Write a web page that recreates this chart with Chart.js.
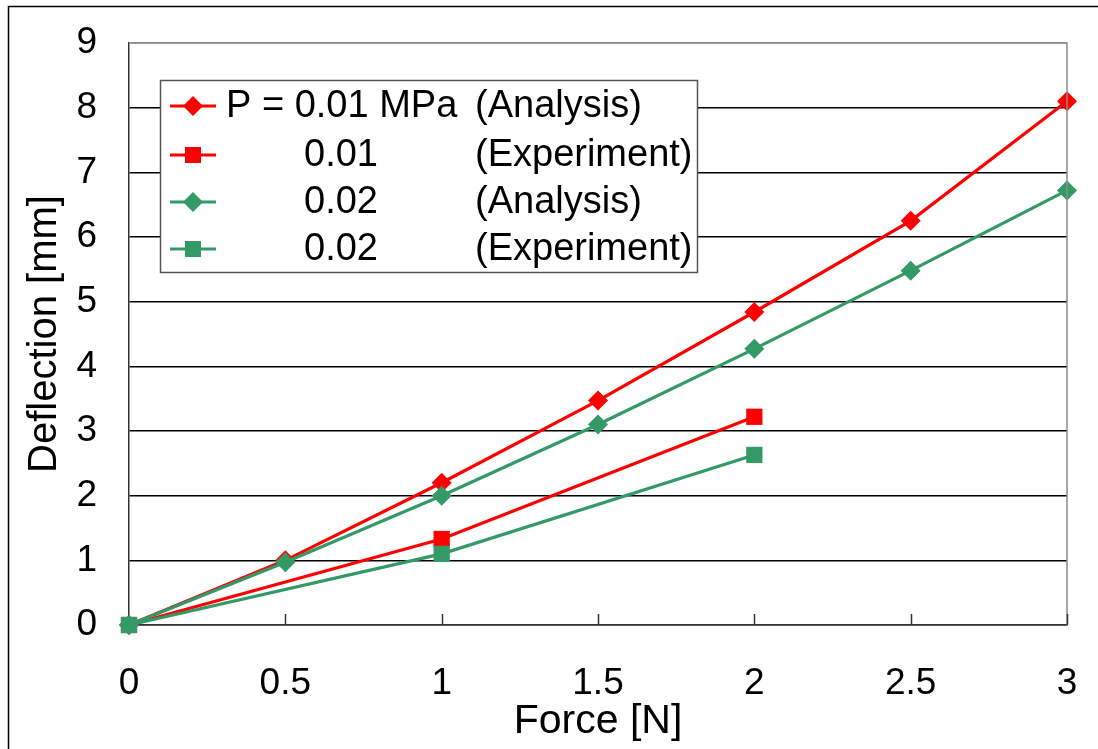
<!DOCTYPE html>
<html>
<head>
<meta charset="utf-8">
<script src="https://cdn.jsdelivr.net/npm/chart.js@4/dist/chart.umd.min.js"></script>
<style>
  html, body { margin: 0; padding: 0; background: #fff; }
  #wrap { width: 1098px; height: 749px; }
</style>
</head>
<body>
<div id="wrap"><canvas id="chart" width="1098" height="749"></canvas></div>
<script>
// force values (N)
const forceAnalysis = [0, 0.5, 1, 1.5, 2, 2.5, 3];
const forceExperiment = [0, 1, 2];

// deflection (mm)
const defl001Analysis = [0, 1.0, 2.2, 3.47, 4.84, 6.25, 8.1];
const defl001Experiment = [0, 1.33, 3.22];
const defl002Analysis = [0, 0.97, 2.0, 3.1, 4.27, 5.48, 6.72];
const defl002Experiment = [0, 1.1, 2.63];

// tick labels
const xTickLabels = ['0', '0.5', '1', '1.5', '2', '2.5', '3'];
const yTickLabels = ['0', '1', '2', '3', '4', '5', '6', '7', '8', '9'];

// legend text columns
const legendPressure = ['P = 0.01 MPa', '0.01', '0.02', '0.02'];
const legendKind = ['(Analysis)', '(Experiment)', '(Analysis)', '(Experiment)'];

const RED = '#ff0000';
const GREEN = '#339966';
const FONT = "'Liberation Sans', Arial, sans-serif";

const toPoints = (xs, ys) => xs.map((x, i) => ({ x: x, y: ys[i] }));

function series(label, xs, ys, color, style, order) {
  const r = style === 'rectRot' ? 10 : 11.5;
  return {
    label: label,
    data: toPoints(xs, ys),
    borderColor: color,
    backgroundColor: color,
    borderWidth: 3.2,
    pointStyle: style,
    pointRadius: r,
    pointHoverRadius: r,
    pointBorderWidth: 0,
    tension: 0,
    fill: false,
    clip: false,
    order: order
  };
}

// plot frame, inward x ticks, outer border and the legend box
const decorations = {
  id: 'decorations',
  afterDraw(chart) {
    const ctx = chart.ctx;
    const a = chart.chartArea;
    const xs = chart.scales.x;
    ctx.save();

    // right / top frame of the plot area
    ctx.strokeStyle = '#8c8c8c';
    ctx.lineWidth = 1.5;
    ctx.beginPath();
    ctx.moveTo(a.left, a.top);
    ctx.lineTo(a.right, a.top);
    ctx.lineTo(a.right, a.bottom);
    ctx.stroke();

    // small tick marks pointing into the plot
    ctx.strokeStyle = '#333';
    ctx.lineWidth = 1.5;
    xs.ticks.forEach(t => {
      if (t.value === 0) return;
      const px = Math.round(xs.getPixelForValue(t.value)) + 0.5;
      ctx.beginPath();
      ctx.moveTo(px, a.bottom);
      ctx.lineTo(px, a.bottom - 11);
      ctx.stroke();
    });

    // outer border (top and left)
    ctx.strokeStyle = '#000';
    ctx.lineWidth = 1.5;
    ctx.beginPath();
    ctx.moveTo(8.5, chart.height);
    ctx.lineTo(8.5, 6.5);
    ctx.lineTo(chart.width, 6.5);
    ctx.stroke();

    // legend
    const box = { x: 160.5, y: 80.5, w: 537, h: 192 };
    ctx.fillStyle = '#fff';
    ctx.fillRect(box.x, box.y, box.w, box.h);
    ctx.strokeStyle = '#555';
    ctx.lineWidth = 1.5;
    ctx.strokeRect(box.x, box.y, box.w, box.h);

    const rowY = [106, 155, 202, 249];
    ctx.font = '38px ' + FONT;
    ctx.textBaseline = 'middle';
    chart.data.datasets.forEach((ds, i) => {
      const y = rowY[i];
      ctx.strokeStyle = ds.borderColor;
      ctx.lineWidth = 3.2;
      ctx.beginPath();
      ctx.moveTo(170, y);
      ctx.lineTo(216, y);
      ctx.stroke();

      ctx.fillStyle = ds.backgroundColor;
      const cx = 193;
      if (ds.pointStyle === 'rectRot') {
        ctx.beginPath();
        ctx.moveTo(cx, y - 10);
        ctx.lineTo(cx + 10, y);
        ctx.lineTo(cx, y + 10);
        ctx.lineTo(cx - 10, y);
        ctx.closePath();
        ctx.fill();
      } else {
        ctx.fillRect(cx - 8, y - 8, 16, 16);
      }

      ctx.fillStyle = '#000';
      ctx.textAlign = 'left';
      ctx.fillText(legendPressure[i], i === 0 ? 226 : 304, y + 1);
      ctx.fillText(legendKind[i], 475, y + 1);
    });

    ctx.restore();
  }
};

new Chart(document.getElementById('chart'), {
  type: 'line',
  data: {
    datasets: [
      series('P = 0.01 MPa (Analysis)', forceAnalysis, defl001Analysis, RED, 'rectRot', 3),
      series('0.01 (Experiment)', forceExperiment, defl001Experiment, RED, 'rect', 2),
      series('0.02 (Analysis)', forceAnalysis, defl002Analysis, GREEN, 'rectRot', 1),
      series('0.02 (Experiment)', forceExperiment, defl002Experiment, GREEN, 'rect', 0)
    ]
  },
  options: {
    responsive: false,
    animation: false,
    events: [],
    layout: { padding: { top: 43, right: 31, bottom: 0, left: 0 } },
    plugins: {
      legend: { display: false },
      tooltip: { enabled: false }
    },
    scales: {
      x: {
        type: 'linear',
        min: 0,
        max: 3,
        // fixed band below the plot; label overhang handled by layout padding
        afterFit: s => { s.height = 124; s.paddingLeft = 0; s.paddingRight = 0; },
        border: { display: true, color: '#333', width: 1.5 },
        grid: { display: false, drawTicks: false, tickLength: 0 },
        ticks: {
          stepSize: 0.5,
          padding: 37,
          color: '#000',
          maxRotation: 0,
          font: { family: FONT, size: 37 },
          callback: (v, i) => xTickLabels[i]
        },
        title: {
          display: true,
          text: 'Force [N]',
          color: '#000',
          font: { family: FONT, size: 41 },
          padding: { top: 0, bottom: 3 }
        }
      },
      y: {
        min: 0,
        max: 9,
        afterFit: s => { s.width = 129; s.paddingTop = 0; s.paddingBottom = 0; },
        border: { display: true, color: '#333', width: 1.5 },
        grid: {
          drawTicks: false,
          tickLength: 0,
          color: c => (c.tick && c.tick.value === 9) ? '#8c8c8c' : '#000',
          lineWidth: 1.5
        },
        ticks: {
          stepSize: 1,
          padding: 32,
          color: '#000',
          font: { family: FONT, size: 37 },
          callback: (v, i) => yTickLabels[i]
        },
        title: {
          display: true,
          text: 'Deflection [mm]',
          color: '#000',
          font: { family: FONT, size: 40 },
          padding: { top: 21, bottom: 0 }
        }
      }
    }
  },
  plugins: [decorations]
});
</script>
</body>
</html>
